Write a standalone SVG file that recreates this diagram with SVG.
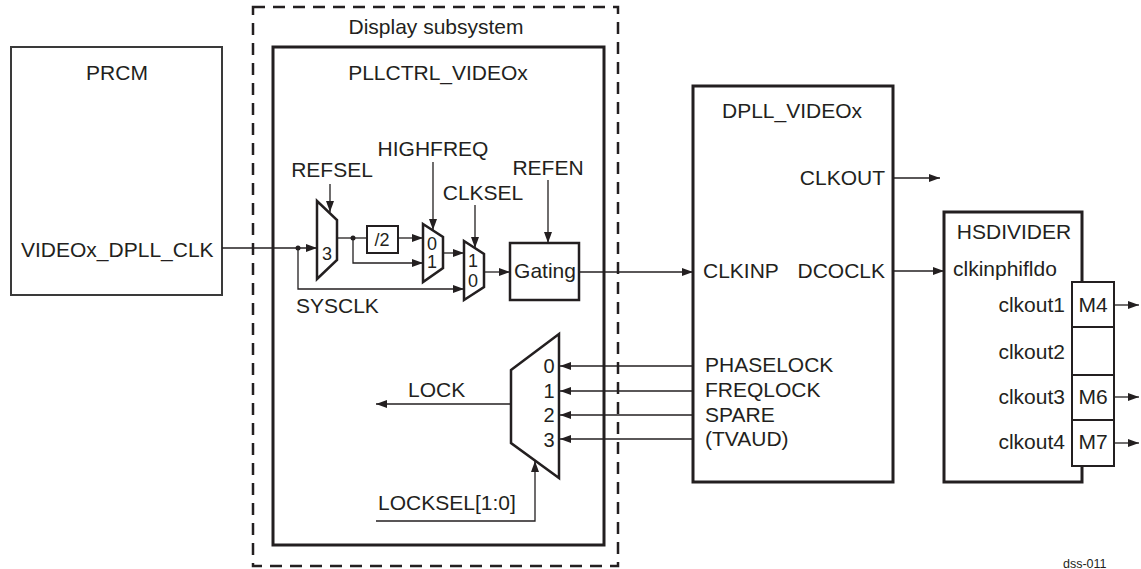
<svg xmlns="http://www.w3.org/2000/svg" width="1141" height="569" viewBox="0 0 1141 569">
<defs>
<marker id="ah" viewBox="0 0 11 8" refX="11" refY="4" markerWidth="11" markerHeight="8" markerUnits="userSpaceOnUse" orient="auto"><path d="M0,0 L11,4 L0,8 z" fill="#231f20"/></marker>
</defs>
<style>
text{font-family:"Liberation Sans",Arial,sans-serif;font-size:21px;fill:#231f20}
.sm{font-size:18px}
.md{font-size:20px}
.tiny{font-size:12.5px}
.box{fill:#fff;stroke:#231f20;stroke-width:3}
.thin{fill:#fff;stroke:#231f20;stroke-width:2}
.mux{fill:#fff;stroke:#231f20;stroke-width:2.5;stroke-linejoin:miter}
.dash{fill:none;stroke:#231f20;stroke-width:2.5;stroke-dasharray:12 8}
.c{fill:none;stroke:#231f20;stroke-width:1.3}
.a{marker-end:url(#ah)}
</style>
<rect width="1141" height="569" fill="#fff"/>

<g id="display-subsystem">
<rect class="dash" x="253" y="7" width="365" height="559"/>
<text x="436" y="34" text-anchor="middle">Display subsystem</text>
</g>

<g id="pllctrl">
<rect class="box" x="273" y="47" width="331" height="498"/>
<text x="438" y="80" text-anchor="middle">PLLCTRL_VIDEOx</text>
</g>

<g id="prcm">
<rect x="11" y="47" width="211" height="248" fill="#fff" stroke="#3a3a3a" stroke-width="2"/>
<text x="117" y="80" text-anchor="middle">PRCM</text>
<text x="21" y="257">VIDEOx_DPLL_CLK</text>
</g>

<g id="refsel-mux">
<polygon class="mux" points="317,201 337,220 337,260 317,279"/>
<text class="sm" x="327" y="260" text-anchor="middle">3</text>
<text x="332" y="177" text-anchor="middle">REFSEL</text>
</g>

<g id="div2">
<rect class="thin" x="367" y="226" width="31" height="27"/>
<text class="sm" x="382" y="246" text-anchor="middle">/2</text>
</g>

<g id="highfreq-mux">
<polygon class="mux" points="423,224 443,237 443,268 423,282"/>
<text class="sm" x="432" y="250" text-anchor="middle">0</text>
<text class="sm" x="432" y="268" text-anchor="middle">1</text>
<text x="433" y="156" text-anchor="middle">HIGHFREQ</text>
</g>

<g id="clksel-mux">
<polygon class="mux" points="464,241 484,254 484,287 464,300"/>
<text class="sm" x="473" y="267" text-anchor="middle">1</text>
<text class="sm" x="473" y="287" text-anchor="middle">0</text>
<text x="483" y="200" text-anchor="middle">CLKSEL</text>
<text x="296" y="313">SYSCLK</text>
</g>

<g id="gating">
<rect class="box" x="510" y="243" width="69" height="57" style="stroke-width:2.5"/>
<text x="545" y="278" text-anchor="middle">Gating</text>
<text x="548" y="175" text-anchor="middle">REFEN</text>
</g>

<g id="lock-mux">
<polygon class="mux" points="511,370 559,334 559,478 511,443"/>
<text class="md" x="549" y="373" text-anchor="middle">0</text>
<text class="md" x="549" y="398" text-anchor="middle">1</text>
<text class="md" x="549" y="422" text-anchor="middle">2</text>
<text class="md" x="549" y="447" text-anchor="middle">3</text>
<text x="408" y="397">LOCK</text>
<text x="378" y="510">LOCKSEL[1:0]</text>
</g>

<g id="dpll">
<rect class="box" x="693" y="86" width="200" height="396"/>
<text x="792" y="118" text-anchor="middle">DPLL_VIDEOx</text>
<text x="885" y="185" text-anchor="end">CLKOUT</text>
<text x="703" y="278">CLKINP</text>
<text x="885" y="278" text-anchor="end">DCOCLK</text>
<text x="705" y="372">PHASELOCK</text>
<text x="705" y="397">FREQLOCK</text>
<text x="705" y="422">SPARE</text>
<text x="705" y="446">(TVAUD)</text>
</g>

<g id="hsdivider">
<rect class="box" x="944" y="212" width="138" height="270"/>
<text x="1014" y="239" text-anchor="middle">HSDIVIDER</text>
<text x="953" y="276">clkinphifldo</text>
<rect class="thin" x="1072" y="282" width="42" height="45"/>
<rect class="thin" x="1072" y="327" width="42" height="48"/>
<rect class="thin" x="1072" y="375" width="42" height="45"/>
<rect class="thin" x="1072" y="420" width="42" height="46"/>
<text x="1093" y="312" text-anchor="middle">M4</text>
<text x="1093" y="404" text-anchor="middle">M6</text>
<text x="1093" y="449" text-anchor="middle">M7</text>
<text x="1065" y="312" text-anchor="end">clkout1</text>
<text x="1065" y="359" text-anchor="end">clkout2</text>
<text x="1065" y="404" text-anchor="end">clkout3</text>
<text x="1065" y="449" text-anchor="end">clkout4</text>
</g>

<g id="connectors">
<path class="c a" d="M222,248 H317"/>
<path class="c a" d="M298,248 V289 H464"/>
<circle cx="298" cy="248" r="2.5" fill="#231f20"/>
<path class="c a" d="M330,184 V212"/>
<path class="c" d="M337,238 H367"/>
<circle cx="353" cy="238" r="2.5" fill="#231f20"/>
<path class="c a" d="M398,238 H423"/>
<path class="c a" d="M353,238 V263 H423"/>
<path class="c a" d="M433,162 V230"/>
<path class="c a" d="M443,253 H464"/>
<path class="c a" d="M475,205 V248"/>
<path class="c a" d="M484,272 H510"/>
<path class="c a" d="M548,180 V243"/>
<path class="c a" d="M579,272 H693"/>
<path class="c a" d="M893,178 H940"/>
<path class="c a" d="M893,271 H944"/>
<path class="c a" d="M1114,305 H1139"/>
<path class="c a" d="M1114,397 H1139"/>
<path class="c a" d="M1114,443 H1139"/>
<path class="c a" d="M693,366 H560"/>
<path class="c a" d="M693,391 H560"/>
<path class="c a" d="M693,415 H560"/>
<path class="c a" d="M693,439 H560"/>
<path class="c a" d="M511,404 H376"/>
<path class="c a" d="M376,521 H535 V461"/>
</g>

<text class="tiny" x="1063" y="568">dss-011</text>
</svg>
